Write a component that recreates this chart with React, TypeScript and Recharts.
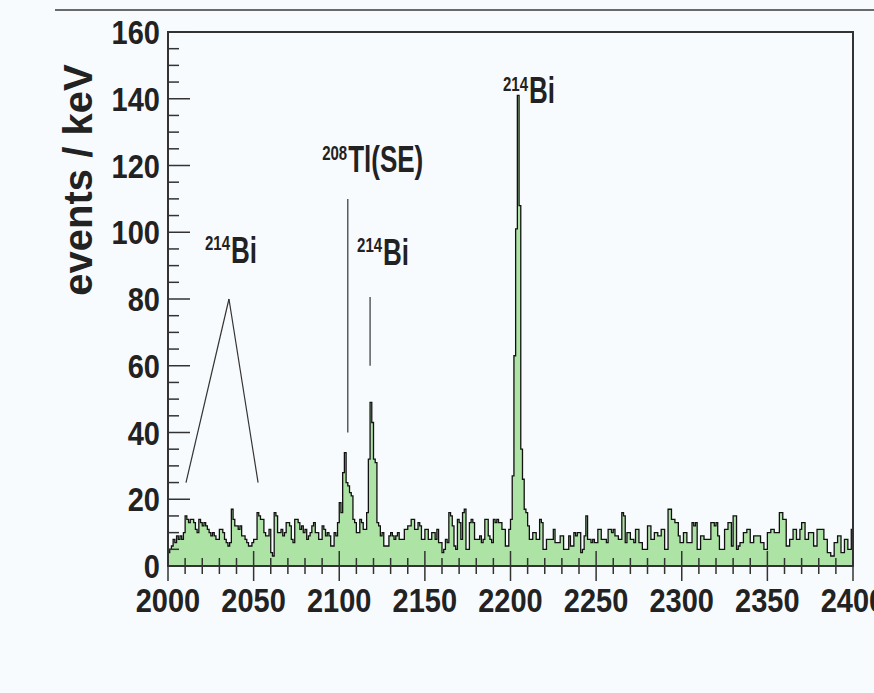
import React from 'react';
import { ComposedChart, Area, XAxis, YAxis, ReferenceArea, ReferenceLine, ReferenceDot } from 'recharts';

// counts per 1 keV bin (bin low edge = energy)
const counts2000 = [
  4, 5, 6, 8, 7, 9, 8, 9, 8, 10,
  15, 14, 13, 14, 14, 13, 11, 10, 14, 13,
  12, 13, 12, 11, 10, 9, 10, 9, 8, 8,
  11, 11, 10, 8, 7, 6, 7, 17, 14, 12,
  12, 11, 12, 9, 9, 8, 7, 6, 6, 7,
  8, 8, 16, 15, 14, 14, 10, 9, 9, 11,
  4, 3, 16, 15, 10, 10, 11, 9, 10, 13,
  13, 12, 8, 7, 14, 14, 13, 11, 12, 10,
  11, 8, 9, 10, 12, 13, 10, 10, 8, 8,
  12, 11, 9, 10, 9, 6, 6, 10, 9, 13,
];
const counts2100 = [
  19, 16, 28, 34, 25, 24, 22, 21, 14, 13,
  10, 10, 14, 13, 11, 11, 16, 32, 49, 43,
  32, 31, 13, 12, 9, 10, 6, 6, 6, 9,
  10, 9, 8, 9, 10, 8, 8, 8, 11, 11,
  12, 12, 14, 14, 11, 11, 13, 12, 8, 8,
  11, 11, 8, 8, 10, 10, 8, 11, 7, 7,
  4, 5, 8, 7, 16, 15, 12, 6, 5, 14,
  13, 8, 16, 17, 5, 5, 13, 14, 13, 8,
  8, 8, 9, 7, 8, 14, 14, 9, 8, 7,
  14, 13, 14, 13, 13, 11, 11, 6, 6, 11,
];
const counts2200 = [
  14, 27, 63, 101, 141, 108, 35, 26, 17, 16,
  12, 8, 8, 10, 10, 8, 8, 14, 13, 5,
  5, 8, 8, 8, 8, 11, 7, 7, 7, 9,
  9, 5, 5, 5, 9, 6, 6, 10, 9, 10,
  10, 4, 5, 9, 15, 8, 8, 7, 8, 7,
  7, 11, 11, 8, 8, 8, 7, 11, 11, 10,
  11, 9, 9, 8, 8, 16, 15, 7, 10, 10,
  8, 8, 7, 11, 11, 7, 7, 5, 5, 5,
  12, 12, 8, 8, 10, 10, 9, 9, 11, 11,
  5, 5, 17, 17, 14, 14, 13, 13, 9, 7,
];
const counts2300 = [
  7, 10, 10, 7, 7, 7, 13, 12, 13, 5,
  5, 9, 9, 8, 8, 8, 8, 13, 13, 12,
  13, 9, 5, 5, 5, 11, 11, 13, 13, 6,
  15, 15, 5, 6, 7, 7, 10, 10, 11, 11,
  7, 7, 9, 9, 9, 9, 7, 7, 5, 5,
  10, 10, 11, 11, 10, 10, 10, 16, 16, 14,
  14, 6, 6, 8, 8, 11, 11, 8, 8, 11,
  13, 13, 8, 8, 10, 10, 10, 6, 6, 11,
  11, 11, 11, 8, 8, 4, 4, 3, 3, 7,
  7, 9, 9, 4, 4, 8, 8, 5, 5, 11,
];

const energyStart = 2000;
const energyEnd = 2400;
const xTicks = [2000, 2010, 2020, 2030, 2040, 2050, 2060, 2070, 2080, 2090, 2100, 2110, 2120, 2130, 2140, 2150, 2160, 2170, 2180, 2190, 2200, 2210, 2220, 2230, 2240, 2250, 2260, 2270, 2280, 2290, 2300, 2310, 2320, 2330, 2340, 2350, 2360, 2370, 2380, 2390, 2400];
const yTicks = [0, 5, 10, 15, 20, 25, 30, 35, 40, 45, 50, 55, 60, 65, 70, 75, 80, 85, 90, 95, 100, 105, 110, 115, 120, 125, 130, 135, 140, 145, 150, 155, 160];

// annotations
const peakIsotopes = ['214', '208', '214', '214'];
const peakNames = ['Bi', 'Tl(SE)', 'Bi', 'Bi'];
const peakLabelE = [2021.6, 2090, 2110.4, 2195.6];
const peakLabelY = [90.8, 118, 90.2, 138.7];
const markerLines = [
  [{ x: 2010.5, y: 25 }, { x: 2035.6, y: 80 }],
  [{ x: 2035.6, y: 80 }, { x: 2052.6, y: 25 }],
  [{ x: 2105, y: 40 }, { x: 2105, y: 110 }],
  [{ x: 2118, y: 60 }, { x: 2118, y: 80.6 }],
];

const allCounts = [...counts2000, ...counts2100, ...counts2200, ...counts2300];
const data = allCounts.map((c, i) => ({ e: energyStart + i, c }));
data.push({ e: energyEnd, c: allCounts[allCounts.length - 1] });

const FONT = '"Liberation Sans", Arial, sans-serif';

const XTick = (props: any) => {
  const { x, y, payload } = props;
  const v = payload.value;
  const major = v % 50 === 0;
  return (
    <g>
      <line x1={x} x2={x} y1={y - (major ? 15 : 8)} y2={y + (major ? 15 : 8)} stroke="#333" strokeWidth={1.5} />
      {major && (
        <text transform={`translate(${x},${y + 46}) scale(1,1.15)`} textAnchor="middle" fontSize={29} fontWeight="bold" fontFamily={FONT} fill="#222">
          {v}
        </text>
      )}
    </g>
  );
};

const YTick = (props: any) => {
  const { x, y, payload } = props;
  const v = payload.value;
  const major = v % 20 === 0;
  return (
    <g>
      <line x1={x} x2={x + (major ? 22 : 11)} y1={y} y2={y} stroke="#333" strokeWidth={1.5} />
      {major && (
        <text transform={`translate(${x - 8},${y + 12}) scale(1,1.15)`} textAnchor="end" fontSize={29} fontWeight="bold" fontFamily={FONT} fill="#222">
          {v}
        </text>
      )}
    </g>
  );
};

const makeLabel = (iso: string, name: string) => (p: any) => (
  <text transform={`translate(${p.cx},${p.cy}) scale(1,1.4)`} fontFamily={FONT} fontWeight="bold" fill="#222">
    <tspan fontSize={15} dy={-9}>{iso}</tspan>
    <tspan fontSize={26} dy={9} dx={1}>{name}</tspan>
  </text>
);

export default function App() {
  return (
    <div style={{ position: 'absolute', left: 0, top: 0, width: 874, height: 693, background: '#f8fbfd', overflow: 'hidden' }}>
      <div style={{ position: 'absolute', left: 55, top: 9, width: 819, height: 2, background: '#6a6a6a' }} />
      <div style={{ position: 'absolute', left: 0, top: 0 }}>
        <ComposedChart width={874} height={693} data={data} margin={{ top: 32, right: 21, left: 108, bottom: 77 }}>
          <XAxis
            dataKey="e"
            type="number"
            domain={[energyStart, energyEnd]}
            ticks={xTicks}
            interval={0}
            tickSize={0}
            tickMargin={0}
            tick={<XTick />}
            tickLine={false}
            axisLine={{ stroke: '#333', strokeWidth: 2 }}
            height={50}
            allowDataOverflow
          />
          <YAxis
            type="number"
            domain={[0, 160]}
            ticks={yTicks}
            interval={0}
            tickSize={0}
            tickMargin={0}
            tick={<YTick />}
            tickLine={false}
            axisLine={{ stroke: '#333', strokeWidth: 2 }}
            width={60}
            allowDataOverflow
            label={{
              content: (lp: any) => (
                <text transform={`translate(92,180) rotate(-90)`} textAnchor="middle" fontSize={40} fontWeight="bold" fontFamily={FONT} fill="#222">
                  events / keV
                </text>
              ),
            }}
          />
          <Area
            type="stepAfter"
            dataKey="c"
            stroke="#111"
            strokeWidth={1.3}
            fill="#aee3a6"
            fillOpacity={1}
            isAnimationActive={false}
            dot={false}
            activeDot={false}
          />
          <ReferenceArea x1={energyStart} x2={energyEnd} y1={0} y2={160} fill="none" stroke="#333" strokeWidth={2} ifOverflow="visible" />
          {markerLines.map((seg, i) => (
            <ReferenceLine key={'l' + i} segment={seg} stroke="#333" strokeWidth={1.2} ifOverflow="visible" />
          ))}
          {peakNames.map((n, i) => (
            <ReferenceDot key={'t' + i} x={peakLabelE[i]} y={peakLabelY[i]} r={0} shape={makeLabel(peakIsotopes[i], n)} ifOverflow="visible" />
          ))}
        </ComposedChart>
      </div>
    </div>
  );
}
